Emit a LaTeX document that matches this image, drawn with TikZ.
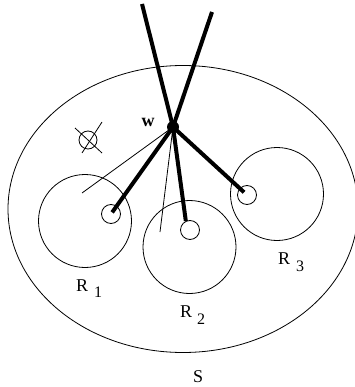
\documentclass[tikz,border=0pt]{standalone}
\usepackage{fontspec}
\setmainfont{Liberation Serif}
\usetikzlibrary{shapes.geometric}
\begin{document}
\begin{tikzpicture}[x=1pt, y=-1pt, auto, font=\fontsize{18}{18}\selectfont]
    \tikzstyle{region} = [circle, draw, line width=0.8pt, minimum size=93pt, inner sep=0pt]
    \tikzstyle{hole} = [circle, draw, line width=0.8pt, minimum size=19pt, inner sep=0pt]
    \tikzstyle{wire} = [draw, line width=4pt]
    \tikzstyle{strand} = [draw, line width=0.8pt]
    \tikzstyle{tag} = [anchor=base west, inner sep=0pt]

    \useasboundingbox (0,0) rectangle (354,387);

    \node [ellipse, draw, line width=0.8pt, minimum width=350pt, minimum height=287pt, inner sep=0pt] (S) at (183,209) {};
    \node [region] (R1) at (85,221) {};
    \node [region] (R2) at (189.5,247) {};
    \node [region] (R3) at (277,194) {};
    \node [hole] (h1) at (111,214) {};
    \node [hole] (h2) at (190,230) {};
    \node [hole] (h3) at (247,195) {};
    \node [circle, fill, minimum size=12pt, inner sep=0pt] (w) at (173,127) {};
    \node (wlabel) at (148,122) {\textbf{w}};

    % empty set mark
    \node [circle, draw, line width=0.8pt, minimum size=18pt, inner sep=0pt] (phi) at (88,140) {};
    \draw [line width=0.8pt] (75,128) -- (102,153);
    \draw [line width=0.8pt] (102,122) -- (82,153);

    \coordinate (top1) at (142,4);
    \coordinate (top2) at (212,12);
    \coordinate (end1) at (82,193);
    \coordinate (end2) at (160,232);

    \draw [wire] (top1) -- (w.center);
    \draw [wire] (top2) -- (w.center);
    \draw [wire, shorten >=2pt] (w.center) -- (h1.center);
    \draw [wire] (w.center) -- (h2.115);
    \draw [wire, shorten >=4pt] (w.center) -- (h3.center);
    \draw [strand] (w.center) -- (end1);
    \draw [strand] (w.center) -- (end2);

    \node [tag] (l1) at (76,291) {R\hspace{6pt}\raisebox{-6pt}{\fontsize{16}{16}\selectfont 1}};
    \node [tag] (l2) at (180,317) {R\hspace{5pt}\raisebox{-7pt}{\fontsize{16}{16}\selectfont 2}};
    \node [tag] (l3) at (278,264) {R\hspace{6pt}\raisebox{-7pt}{\fontsize{16}{16}\selectfont 3}};
    \node [tag] (lS) at (193,382) {S};
\end{tikzpicture}
\end{document}
